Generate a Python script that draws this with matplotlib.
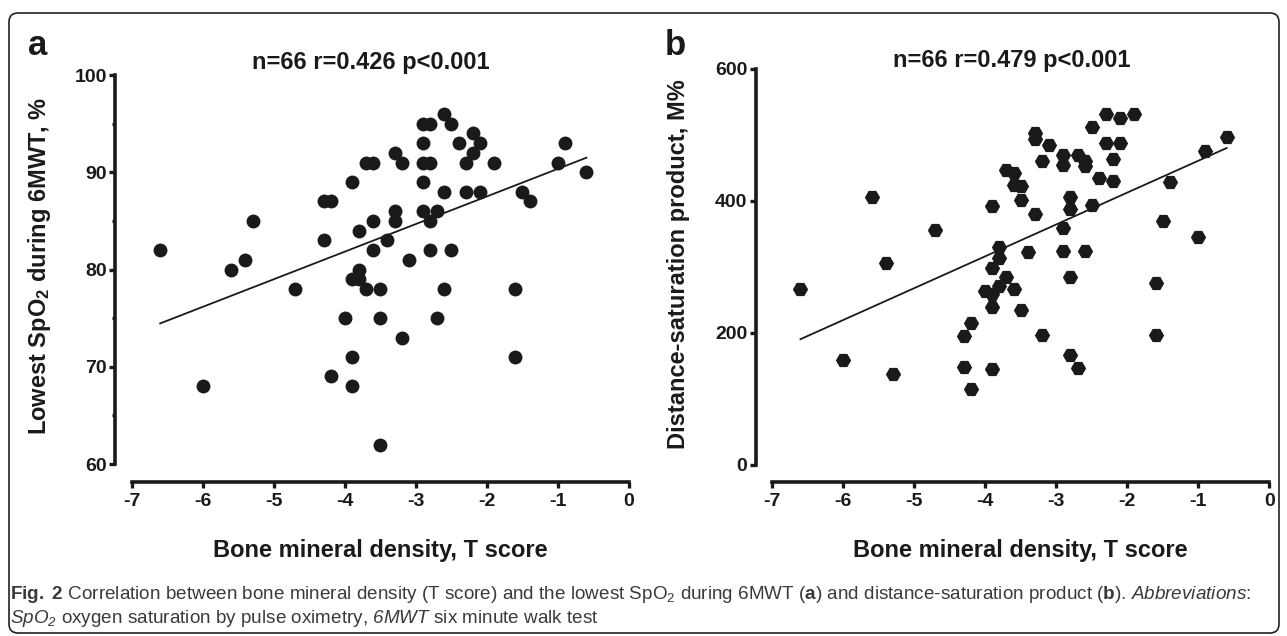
import numpy as np
import matplotlib
matplotlib.use("Agg")
import matplotlib.pyplot as plt
from matplotlib import font_manager
from matplotlib.patches import FancyBboxPatch
from matplotlib.transforms import IdentityTransform

# panel a: T score vs lowest SpO2 during 6MWT
tscore_a = [-6.6, -6.0, -5.6, -5.4, -5.3, -4.7, -4.3, -4.3, -4.2, -4.2,
            -4.0, -3.9, -3.9, -3.9, -3.9, -3.8, -3.8, -3.8, -3.7, -3.6,
            -3.7, -3.6, -3.6, -3.5, -3.5, -3.5, -3.4, -3.3, -3.3, -3.3,
            -3.2, -3.2, -3.1, -2.9, -2.8, -2.9, -2.9, -2.8, -2.9, -2.9,
            -2.8, -2.8, -2.7, -2.7, -2.6, -2.5, -2.6, -2.6, -2.5, -2.4,
            -2.3, -2.3, -2.2, -2.2, -2.1, -2.1, -1.9, -1.6, -1.6, -1.5,
            -1.4, -1.0, -0.9, -0.6]
spo2 = [82, 68, 80, 81, 85, 78, 83, 87, 87, 69,
        75, 89, 71, 68, 79, 79, 80, 84, 91, 91,
        78, 85, 82, 78, 75, 62, 83, 92, 86, 85,
        91, 73, 81, 95, 95, 93, 91, 91, 89, 86,
        85, 82, 86, 75, 96, 95, 88, 78, 82, 93,
        91, 88, 94, 92, 93, 88, 91, 78, 71, 88,
        87, 91, 93, 90]

# panel b: T score vs distance-saturation product
tscore_b = [-6.6, -6.0, -5.6, -5.4, -5.3, -4.7, -4.3, -4.3, -4.2, -4.2,
            -4.0, -3.9, -3.9, -3.9, -3.9, -3.9, -3.8, -3.8, -3.8, -3.7,
            -3.7, -3.6, -3.6, -3.6, -3.5, -3.5, -3.5, -3.4, -3.3, -3.3,
            -3.3, -3.2, -3.2, -3.1, -2.9, -2.9, -2.9, -2.9, -2.8, -2.8,
            -2.8, -2.8, -2.7, -2.7, -2.6, -2.6, -2.6, -2.5, -2.5, -2.4,
            -2.3, -2.3, -2.2, -2.2, -2.1, -2.1, -1.9, -1.6, -1.6, -1.5,
            -1.4, -1.0, -0.9, -0.6]
dsp = [267, 159, 406, 306, 138, 355, 195, 148, 215, 114,
       263, 392, 298, 259, 239, 145, 330, 314, 271, 447,
       284, 442, 424, 267, 423, 401, 234, 322, 502, 493,
       380, 461, 197, 484, 470, 455, 358, 324, 405, 387,
       284, 166, 470, 147, 461, 452, 324, 512, 393, 435,
       531, 488, 463, 430, 526, 488, 532, 275, 196, 370,
       429, 345, 475, 496]

# regression lines as drawn in the figure (slope, intercept)
fit_a = (2.84, 93.2)
fit_b = (48.3, 509.0)

titles = ["n=66 r=0.426 p<0.001", "n=66 r=0.479 p<0.001"]
xlabel = "Bone mineral density, T score"
ylabels = [r"Lowest SpO$_\mathbf{2}$ during 6MWT, %", "Distance-saturation product, M%"]
xticks = [-7, -6, -5, -4, -3, -2, -1, 0]

names = {f.name for f in font_manager.fontManager.ttflist}
cap_font = "Liberation Sans Narrow" if "Liberation Sans Narrow" in names else "Liberation Sans"

plt.rcParams["font.family"] = ["Liberation Sans", "DejaVu Sans"]
plt.rcParams["mathtext.fontset"] = "custom"
plt.rcParams["mathtext.rm"] = cap_font
plt.rcParams["mathtext.it"] = cap_font + ":italic"
# sf slot used for italic caption words (keeps digits italic too)
plt.rcParams["mathtext.sf"] = cap_font + ":italic"
plt.rcParams["mathtext.bf"] = "Liberation Sans:bold"

INK = "#1a1a1a"
W, H = 1287, 636
fig = plt.figure(figsize=(W / 100, H / 100), dpi=100)


def fx(x):
    return x / W


def fy(y):
    return 1 - y / H


def px_axes(left, right, top, bottom):
    return fig.add_axes([left / W, 1 - bottom / H, (right - left) / W, (bottom - top) / H])


ax_a = px_axes(115.4, 632.6, 72.1, 481.7)
ax_b = px_axes(755.7, 1272.9, 66.2, 481.7)

ax_a.scatter(tscore_a, spo2, s=10 ** 2, marker="o", color=INK, lw=0, clip_on=False, zorder=3)
ax_b.scatter(tscore_b, dsp, s=11 ** 2, marker="H", color=INK, lw=0, clip_on=False, zorder=3)

for ax, (k, b), xs in [(ax_a, fit_a, tscore_a), (ax_b, fit_b, tscore_b)]:
    xx = np.array([min(xs), max(xs)])
    ax.plot(xx, k * xx + b, color=INK, lw=1.3, zorder=2)

ax_a.set_xlim(-7.23, 0.05)
ax_a.set_ylim(58.18, 100.3)
ax_a.set_yticks([60, 70, 80, 90, 100])
ax_a.set_yticks([65, 75, 85, 95], minor=True)
ax_a.spines["left"].set_bounds(60, 100)

ax_b.set_xlim(-7.23, 0.05)
ax_b.set_ylim(-25.8, 604)
ax_b.set_yticks([0, 200, 400, 600])
ax_b.spines["left"].set_bounds(0, 600)

for ax in (ax_a, ax_b):
    ax.set_xticks(xticks)
    ax.set_xticklabels([str(t) for t in xticks])
    ax.spines["bottom"].set_bounds(-7, 0)
    for s in ("top", "right"):
        ax.spines[s].set_visible(False)
    for s in ("left", "bottom"):
        ax.spines[s].set_linewidth(2.6)
        ax.spines[s].set_color(INK)
        ax.spines[s].set_capstyle("projecting")
    ax.tick_params(which="major", direction="out", length=4, width=2.4, color=INK,
                   labelsize=14, labelcolor=INK, pad=2)
    ax.tick_params(which="minor", direction="out", length=2, width=2.4, color=INK)
    ax.tick_params(axis="x", pad=4)
    for lab in ax.get_xticklabels() + ax.get_yticklabels():
        lab.set_fontweight("bold")
    ax.patch.set_alpha(0)

# titles, labels, panel letters
fig.text(fx(371), fy(62), titles[0], ha="center", va="center", fontsize=17, fontweight="bold", color=INK)
fig.text(fx(1012), fy(60), titles[1], ha="center", va="center", fontsize=17, fontweight="bold", color=INK)
fig.text(fx(28), fy(55), "a", ha="left", va="baseline", fontsize=25, fontweight="bold", color=INK)
fig.text(fx(665), fy(55), "b", ha="left", va="baseline", fontsize=25, fontweight="bold", color=INK)
fig.text(fx(40), fy(266), ylabels[0], rotation=90, ha="center", va="center", fontsize=17, fontweight="bold", color=INK)
fig.text(fx(679), fy(264), ylabels[1], rotation=90, ha="center", va="center", fontsize=17, fontweight="bold", color=INK)
fig.text(fx(380), fy(557), xlabel, ha="center", va="baseline", fontsize=17, fontweight="bold", color=INK)
fig.text(fx(1020), fy(557), xlabel, ha="center", va="baseline", fontsize=17, fontweight="bold", color=INK)

# caption
cap1 = (r"$\mathbf{Fig.\ 2}$ Correlation between bone mineral density (T score) and the lowest "
        r"SpO$_2$ during 6MWT ($\mathbf{a}$) and distance-saturation product ($\mathbf{b}$). "
        r"$\mathsf{Abbreviations}$:")
cap2 = r"$\mathsf{SpO_2}$ oxygen saturation by pulse oximetry, $\mathsf{6MWT}$ six minute walk test"
t1 = fig.text(fx(10), fy(599), cap1, ha="left", va="baseline", fontsize=14, family=cap_font, color="#3a3a3a")
t2 = fig.text(fx(10), fy(623), cap2, ha="left", va="baseline", fontsize=14, family=cap_font, color="#3a3a3a")

# shrink the caption so the first line ends where the reference one does
fig.canvas.draw()
wid = t1.get_window_extent(fig.canvas.get_renderer()).width
fs = 14 * 1246 / wid
t1.set_fontsize(fs)
t2.set_fontsize(fs)

# rounded frame round the figure
frame = FancyBboxPatch((9, H - 633), 1270, 620, boxstyle="round,pad=0,rounding_size=9",
                       transform=IdentityTransform(), fill=False, ec="#222222", lw=1.2)
fig.patches.append(frame)

fig.savefig("out.png", dpi=100, facecolor="white")
